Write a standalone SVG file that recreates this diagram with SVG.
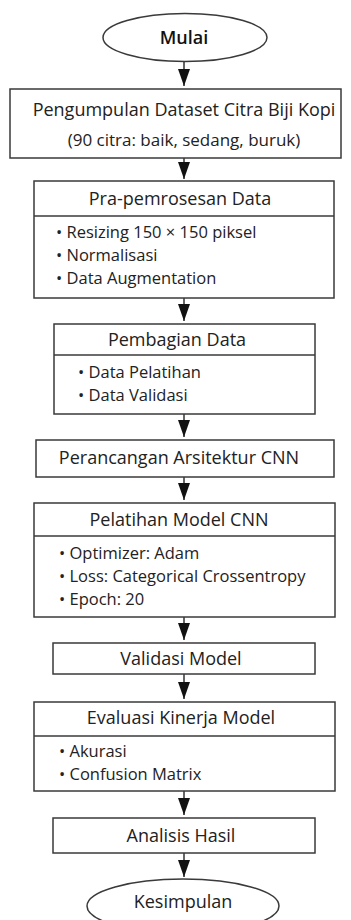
<svg xmlns="http://www.w3.org/2000/svg" width="351" height="920" viewBox="0 0 351 920">
<style>
.box{fill:#fff;stroke:#3a3a3a;stroke-width:1.5}
.div{stroke:#3a3a3a;stroke-width:1.5}
.t{font-family:"Open Sans","Noto Sans","DejaVu Sans",sans-serif;fill:#222;font-size:17px}
.h{font-family:"Open Sans","Noto Sans","DejaVu Sans",sans-serif;fill:#222;font-size:18px;text-anchor:middle;font-weight:500}
.b{font-family:"Open Sans","Noto Sans","DejaVu Sans",sans-serif;fill:#222;font-size:16.5px}
.term{font-family:"Open Sans","Noto Sans","DejaVu Sans",sans-serif;fill:#111;font-size:18px;text-anchor:middle;font-weight:600}
.c{stroke:#333;stroke-width:1.5;fill:none;marker-end:url(#ah)}
</style>
<defs>
<marker id="ah" markerUnits="userSpaceOnUse" markerWidth="18" markerHeight="12" refX="17" refY="6" orient="auto">
<path d="M0,0 L17,6 L0,12 z" fill="#111"/>
</marker>
</defs>
<rect width="351" height="920" fill="#fff"/>
<g id="connectors">
<line class="c" x1="184" y1="62" x2="184" y2="86"/>
<line class="c" x1="184" y1="158" x2="184" y2="179"/>
<line class="c" x1="184" y1="298" x2="184" y2="321"/>
<line class="c" x1="184" y1="414" x2="184" y2="437"/>
<line class="c" x1="184" y1="477" x2="184" y2="500"/>
<line class="c" x1="184" y1="617" x2="184" y2="640"/>
<line class="c" x1="184" y1="674" x2="184" y2="699"/>
<line class="c" x1="184" y1="791" x2="184" y2="815"/>
<line class="c" x1="184" y1="853" x2="184" y2="877"/>
</g>
<g id="mulai">
<ellipse class="box" cx="185" cy="37.5" rx="82" ry="24"/>
<text class="term" x="184" y="44">Mulai</text>
</g>
<g id="pengumpulan">
<rect class="box" x="10" y="89" width="331" height="69"/>
<text class="h" x="184" y="116">Pengumpulan Dataset Citra Biji Kopi</text>
<text class="t" x="184" y="146" text-anchor="middle">(90 citra: baik, sedang, buruk)</text>
</g>
<g id="praproses">
<rect class="box" x="34" y="181" width="300" height="117"/>
<line class="div" x1="34" y1="216" x2="334" y2="216"/>
<text class="h" x="180" y="205">Pra-pemrosesan Data</text>
<text class="b" x="56" y="238">• Resizing 150 × 150 piksel</text>
<text class="b" x="56" y="261">• Normalisasi</text>
<text class="b" x="56" y="284">• Data Augmentation</text>
</g>
<g id="pembagian">
<rect class="box" x="54" y="324" width="261" height="90"/>
<line class="div" x1="54" y1="355" x2="315" y2="355"/>
<text class="h" x="177" y="346">Pembagian Data</text>
<text class="b" x="78" y="378">• Data Pelatihan</text>
<text class="b" x="78" y="401">• Data Validasi</text>
</g>
<g id="perancangan">
<rect class="box" x="36" y="440" width="298" height="37"/>
<text class="h" x="179" y="464">Perancangan Arsitektur CNN</text>
</g>
<g id="pelatihan">
<rect class="box" x="34" y="503" width="301" height="114"/>
<line class="div" x1="34" y1="536" x2="335" y2="536"/>
<text class="h" x="179" y="526">Pelatihan Model CNN</text>
<text class="b" x="59" y="559">• Optimizer: Adam</text>
<text class="b" x="59" y="582">• Loss: Categorical Crossentropy</text>
<text class="b" x="59" y="605">• Epoch: 20</text>
</g>
<g id="validasi">
<rect class="box" x="53" y="643" width="262" height="31"/>
<text class="h" x="181" y="665">Validasi Model</text>
</g>
<g id="evaluasi">
<rect class="box" x="34" y="702" width="301" height="89"/>
<line class="div" x1="34" y1="736" x2="335" y2="736"/>
<text class="h" x="181" y="724">Evaluasi Kinerja Model</text>
<text class="b" x="59" y="757">• Akurasi</text>
<text class="b" x="59" y="780">• Confusion Matrix</text>
</g>
<g id="analisis">
<rect class="box" x="53" y="818" width="262" height="35"/>
<text class="h" x="181" y="842">Analisis Hasil</text>
</g>
<g id="kesimpulan">
<ellipse class="box" cx="183" cy="906" rx="96" ry="27"/>
<text class="h" x="183" y="908">Kesimpulan</text>
</g>
</svg>
